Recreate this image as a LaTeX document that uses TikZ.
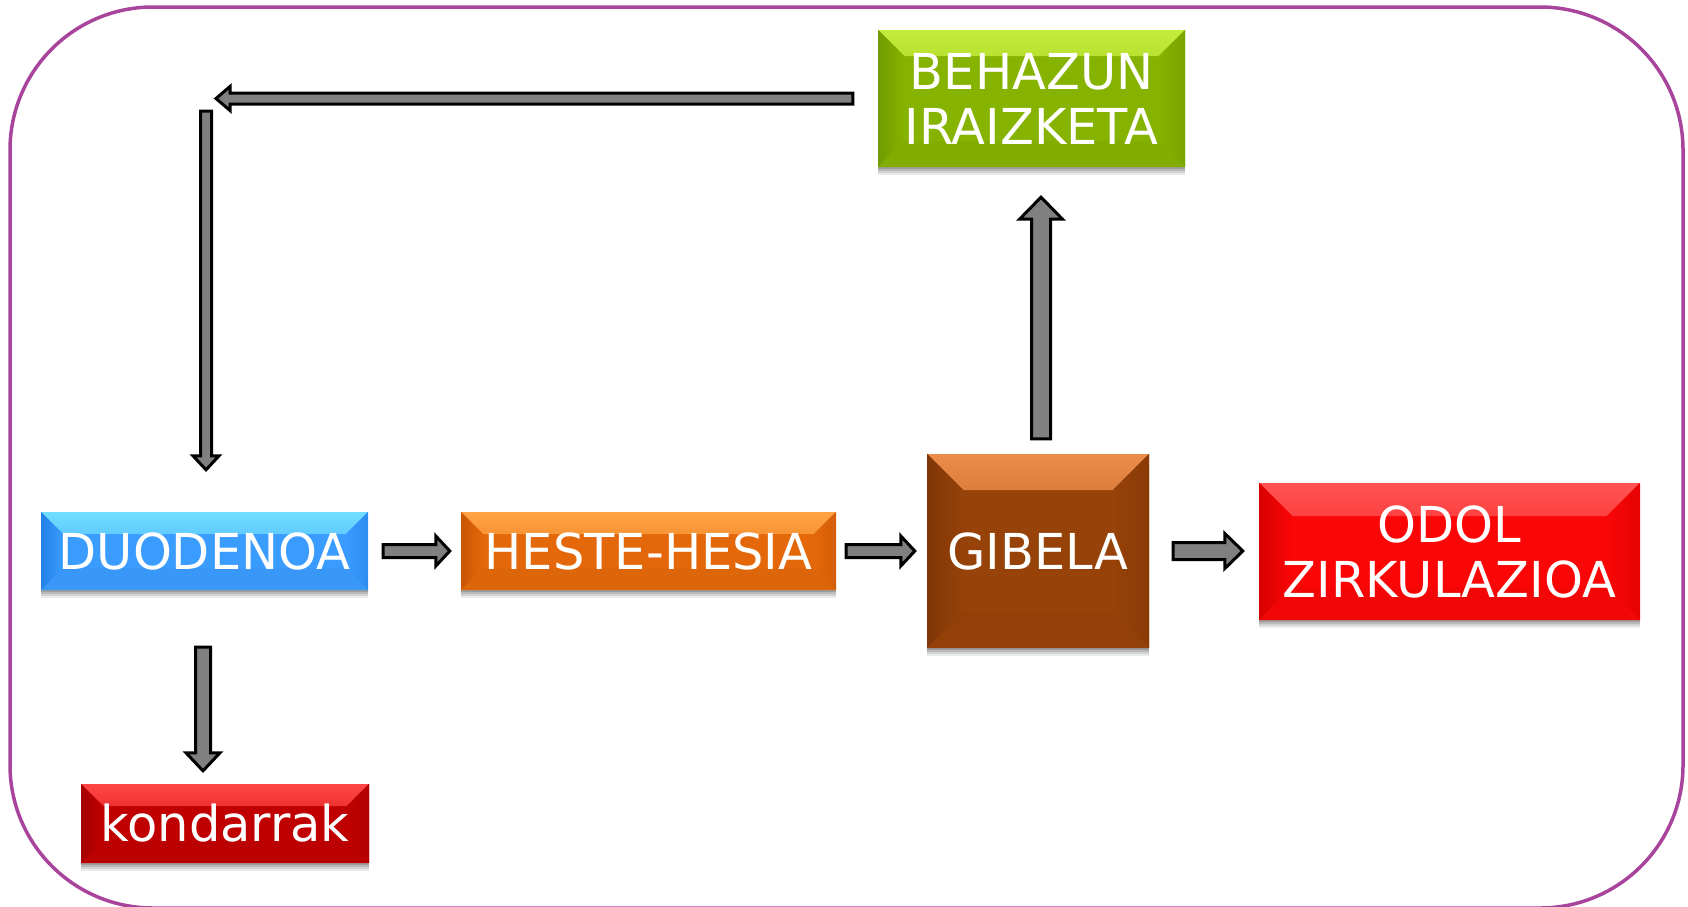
\documentclass[tikz,border=0pt]{standalone}
\usepackage{fontspec}
\setmainfont{DejaVu Sans}
\usetikzlibrary{calc,shadows}
\definecolor{framepurple}{RGB}{168,68,156}
\definecolor{arrowgray}{RGB}{128,128,128}
\definecolor{grmain}{RGB}{134,178,0}
\definecolor{grlight}{RGB}{196,236,60}
\definecolor{grdark}{RGB}{112,156,0}
\definecolor{blmain}{RGB}{58,156,255}
\definecolor{bllight}{RGB}{112,222,255}
\definecolor{bldark}{RGB}{36,128,228}
\definecolor{ormain}{RGB}{228,104,10}
\definecolor{orlight}{RGB}{255,164,70}
\definecolor{ordark}{RGB}{200,86,6}
\definecolor{brmain}{RGB}{150,66,8}
\definecolor{brlight}{RGB}{236,140,74}
\definecolor{brdark}{RGB}{128,54,6}
\definecolor{rdmain}{RGB}{250,6,6}
\definecolor{rdlight}{RGB}{255,84,84}
\definecolor{rddark}{RGB}{214,0,0}
\definecolor{krmain}{RGB}{192,0,0}
\definecolor{krlight}{RGB}{255,70,70}
\definecolor{krdark}{RGB}{166,0,0}
\tikzset{
  frame/.style={draw=framepurple, line width=3.5pt, rounded corners=143pt},
  box/.style n args={4}{draw=none, fill=#1, text=white, align=center, inner sep=0pt,
    font=\fontsize{49.5}{55}\selectfont,
    drop shadow={shadow xshift=0pt, shadow yshift=-8pt, opacity=0.08, fill=black},
    drop shadow={shadow xshift=0pt, shadow yshift=-6pt, opacity=0.1, fill=black},
    drop shadow={shadow xshift=0pt, shadow yshift=-4pt, opacity=0.12, fill=black},
    drop shadow={shadow xshift=0pt, shadow yshift=-2pt, opacity=0.15, fill=black},
    path picture={
      \fill[top color=#2, bottom color=#1]
        (path picture bounding box.north west) -- (path picture bounding box.north east)
        -- ([xshift=-#4,yshift=-#4]path picture bounding box.north east)
        -- ([xshift=#4,yshift=-#4]path picture bounding box.north west) -- cycle;
      \fill[left color=#3, right color=#1]
        (path picture bounding box.north west) -- ([xshift=#4,yshift=-#4]path picture bounding box.north west)
        -- ([xshift=#4,yshift=#4]path picture bounding box.south west) -- (path picture bounding box.south west) -- cycle;
      \fill[right color=#3!60!#1, left color=#1]
        (path picture bounding box.north east) -- (path picture bounding box.south east)
        -- ([xshift=-#4,yshift=#4]path picture bounding box.south east)
        -- ([xshift=-#4,yshift=-#4]path picture bounding box.north east) -- cycle;
      \fill[#1!97!black]
        (path picture bounding box.south west) -- (path picture bounding box.south east)
        -- ([xshift=-#4,yshift=#4]path picture bounding box.south east)
        -- ([xshift=#4,yshift=#4]path picture bounding box.south west) -- cycle;
    }},
  barrow/.style n args={3}{draw=black, line width=3pt, fill=arrowgray, line join=miter,
    to path={let \p1=(\tikztostart), \p2=(\tikztotarget), \n1={atan2(\y2-\y1,\x2-\x1)} in
      ($(\p1)+(\n1+90:#1)$)
      -- ($(\p2)+(\n1+180:#3)+(\n1+90:#1)$)
      -- ($(\p2)+(\n1+180:#3)+(\n1+90:#2)$)
      -- (\p2)
      -- ($(\p2)+(\n1+180:#3)+(\n1-90:#2)$)
      -- ($(\p2)+(\n1+180:#3)+(\n1-90:#1)$)
      -- ($(\p1)+(\n1-90:#1)$) -- cycle}},
}
\begin{document}
\begin{tikzpicture}[x=1pt,y=-1pt]
\useasboundingbox (0,0) rectangle (1688,906);
\draw[frame] (10,7) rectangle (1683,908);

\node[box={grmain}{grlight}{grdark}{26pt}, minimum width=307pt, minimum height=137pt] (beh) at (1031.5,98.5) {BEHAZUN\\IRAIZKETA};
\node[box={blmain}{bllight}{bldark}{22pt}, minimum width=327pt, minimum height=78pt] (duo) at (204.5,551) {DUODENOA};
\node[box={ormain}{orlight}{ordark}{22pt}, minimum width=375pt, minimum height=78pt] (hes) at (648.5,551) {HESTE-HESIA};
\node[box={brmain}{brlight}{brdark}{36pt}, minimum width=222pt, minimum height=194pt] (gib) at (1038,551) {GIBELA};
\node[box={rdmain}{rdlight}{rddark}{33pt}, minimum width=381pt, minimum height=137pt] (odo) at (1449.5,551.5) {ODOL\\ZIRKULAZIOA};
\node[box={krmain}{krlight}{krdark}{22pt}, minimum width=288pt, minimum height=79pt] (kon) at (225,823.5) {kondarrak};

\coordinate (c1) at (216,98.5);
\coordinate (c2) at (206,111);

\draw[barrow={5.5pt}{12pt}{14pt}] ($(beh.west)+(-25,0)$) to (c1);
\draw[barrow={5.5pt}{13pt}{14pt}] (c2) to ($(duo.north)+(1.5,-42)$);
\draw[barrow={6.5pt}{15pt}{14pt}] ($(duo.east)+(15,0)$) to ($(hes.west)+(-11,0)$);
\draw[barrow={6.5pt}{15pt}{14pt}] ($(hes.east)+(10,0)$) to ($(gib.west)+(-12,0)$);
\draw[barrow={8.5pt}{17.5pt}{18pt}] ($(gib.east)+(24,0)$) to ($(odo.west |- gib.east)+(-16,0)$);
\draw[barrow={9.5pt}{21.5pt}{22pt}] ($(gib.north)+(3,-15)$) to ($(gib.north |- beh.south)+(3,30)$);
\draw[barrow={7.5pt}{17pt}{18pt}] ($(duo.south)+(-1.5,57)$) to ($(duo.south |- kon.north)+(-1.5,-13)$);
\end{tikzpicture}
\end{document}
